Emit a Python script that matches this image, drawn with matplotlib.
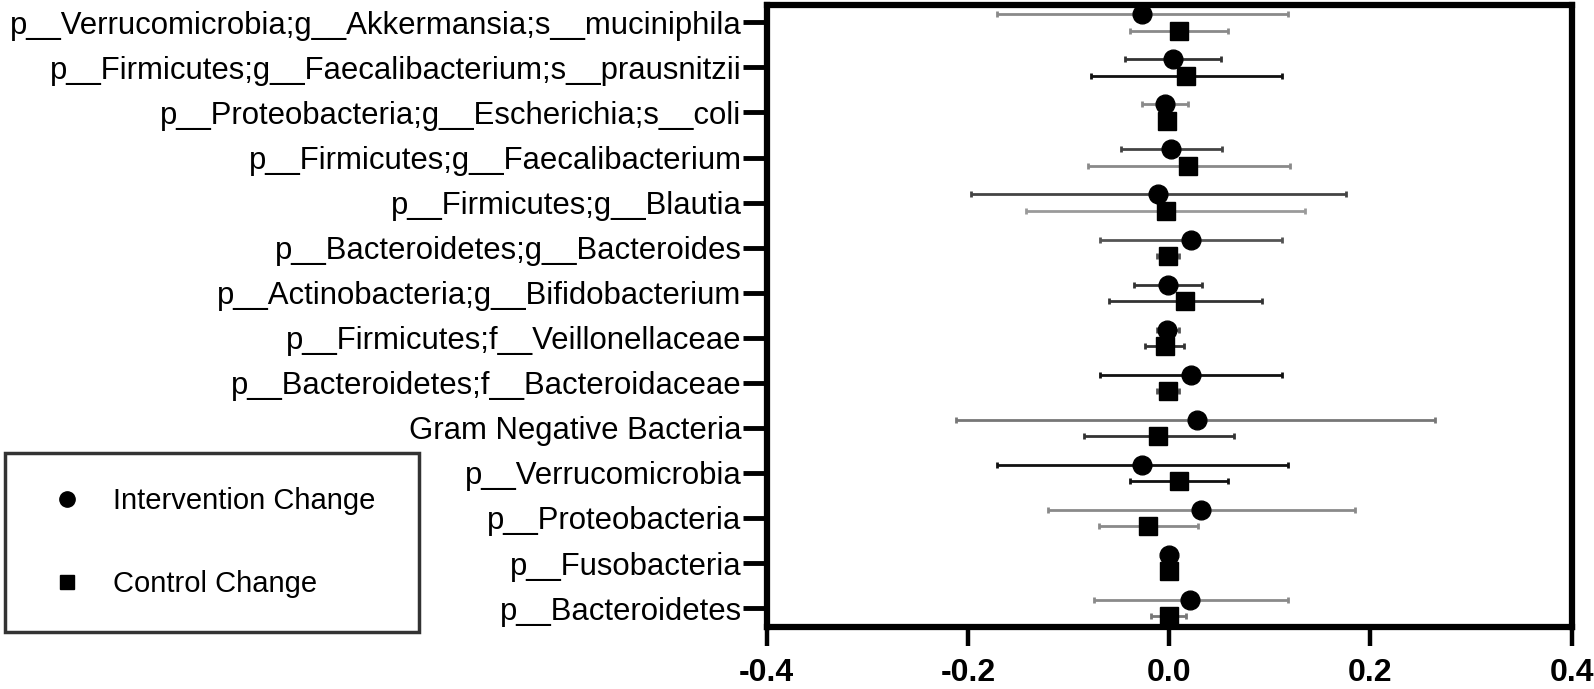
import numpy as np
import matplotlib.pyplot as plt
from matplotlib.lines import Line2D

# カテゴリ（上から下へ）
taxa = ['p__Verrucomicrobia;g__Akkermansia;s__muciniphila',
        'p__Firmicutes;g__Faecalibacterium;s__prausnitzii',
        'p__Proteobacteria;g__Escherichia;s__coli',
        'p__Firmicutes;g__Faecalibacterium',
        'p__Firmicutes;g__Blautia',
        'p__Bacteroidetes;g__Bacteroides',
        'p__Actinobacteria;g__Bifidobacterium',
        'p__Firmicutes;f__Veillonellaceae',
        'p__Bacteroidetes;f__Bacteroidaceae',
        'Gram Negative Bacteria',
        'p__Verrucomicrobia',
        'p__Proteobacteria',
        'p__Fusobacteria',
        'p__Bacteroidetes']

# Intervention Change: 平均値と下限・上限
int_mean = [-0.027, 0.004, -0.004, 0.002, -0.011, 0.022, -0.001, -0.002, 0.022, 0.028, -0.027, 0.032, 0.000, 0.021]
int_low = [-0.171, -0.044, -0.027, -0.048, -0.197, -0.069, -0.035, -0.012, -0.069, -0.212, -0.171, -0.120, 0.000, -0.075]
int_high = [0.118, 0.051, 0.019, 0.052, 0.176, 0.112, 0.033, 0.010, 0.112, 0.264, 0.118, 0.185, 0.000, 0.118]

# Control Change
ctl_mean = [0.010, 0.017, -0.002, 0.019, -0.003, -0.001, 0.016, -0.004, -0.001, -0.011, 0.010, -0.021, 0.000, 0.000]
ctl_low = [-0.039, -0.078, -0.002, -0.081, -0.142, -0.012, -0.060, -0.024, -0.012, -0.085, -0.039, -0.070, 0.000, -0.018]
ctl_high = [0.058, 0.112, -0.002, 0.120, 0.135, 0.010, 0.092, 0.015, 0.010, 0.064, 0.058, 0.029, 0.000, 0.017]

int_colors = ['#8a8a8a', '#333333', '#8a8a8a', '#444444', '#444444', '#555555', '#333333',
              '#555555', '#111111', '#777777', '#111111', '#8a8a8a', '#333333', '#8a8a8a']
ctl_colors = ['#8a8a8a', '#111111', '#555555', '#8a8a8a', '#9a9a9a', '#555555', '#333333',
              '#333333', '#555555', '#333333', '#111111', '#8a8a8a', '#333333', '#777777']

xticks = [-0.4, -0.2, 0.0, 0.2, 0.4]

plt.rcParams['font.family'] = ['Liberation Sans', 'DejaVu Sans']

fig = plt.figure(figsize=(15.94, 6.89), dpi=100)
ax = fig.add_axes([0.481, 0.090, 0.505, 0.903])

pos = np.arange(len(taxa))
off = 0.18
for i in range(len(taxa)):
    ax.errorbar(int_mean[i], pos[i] - off,
                xerr=[[int_mean[i] - int_low[i]], [int_high[i] - int_mean[i]]],
                fmt='none', ecolor=int_colors[i], elinewidth=2, capsize=2.5, capthick=2, zorder=2)
    ax.errorbar(ctl_mean[i], pos[i] + off,
                xerr=[[ctl_mean[i] - ctl_low[i]], [ctl_high[i] - ctl_mean[i]]],
                fmt='none', ecolor=ctl_colors[i], elinewidth=2, capsize=2.5, capthick=2, zorder=2)
ax.plot(int_mean, pos - off, 'o', color='black', markersize=13.5, linestyle='none', zorder=3)
ax.plot(ctl_mean, pos + off, 's', color='black', markersize=13, linestyle='none', zorder=3)

ax.set_xlim(-0.4, 0.4)
ax.set_ylim(13.42, -0.39)
ax.set_xticks(xticks)
ax.set_xticklabels(['%.1f' % v for v in xticks], fontsize=23, fontweight='bold')
ax.set_yticks(pos)
ax.set_yticklabels(taxa, fontsize=22.4)

for s in ax.spines.values():
    s.set_linewidth(4.5)
ax.tick_params(axis='y', length=17, width=3.5, pad=1)
ax.tick_params(axis='x', length=14, width=3.2, pad=8)

handles = [Line2D([], [], marker='o', color='black', linestyle='none', markersize=11),
           Line2D([], [], marker='s', color='black', linestyle='none', markersize=10)]
leg = fig.legend(handles, ['Intervention Change', 'Control Change'],
                 loc='lower left', bbox_to_anchor=(0.003, 0.083, 0.26, 0.26), mode='expand',
                 borderaxespad=0, fontsize=21, frameon=True, fancybox=False, edgecolor='black',
                 labelspacing=1.9, borderpad=1.15, handletextpad=0.55, handlelength=2.0)
leg.get_frame().set_linewidth(2.5)

fig.savefig('out.png', dpi=100)
